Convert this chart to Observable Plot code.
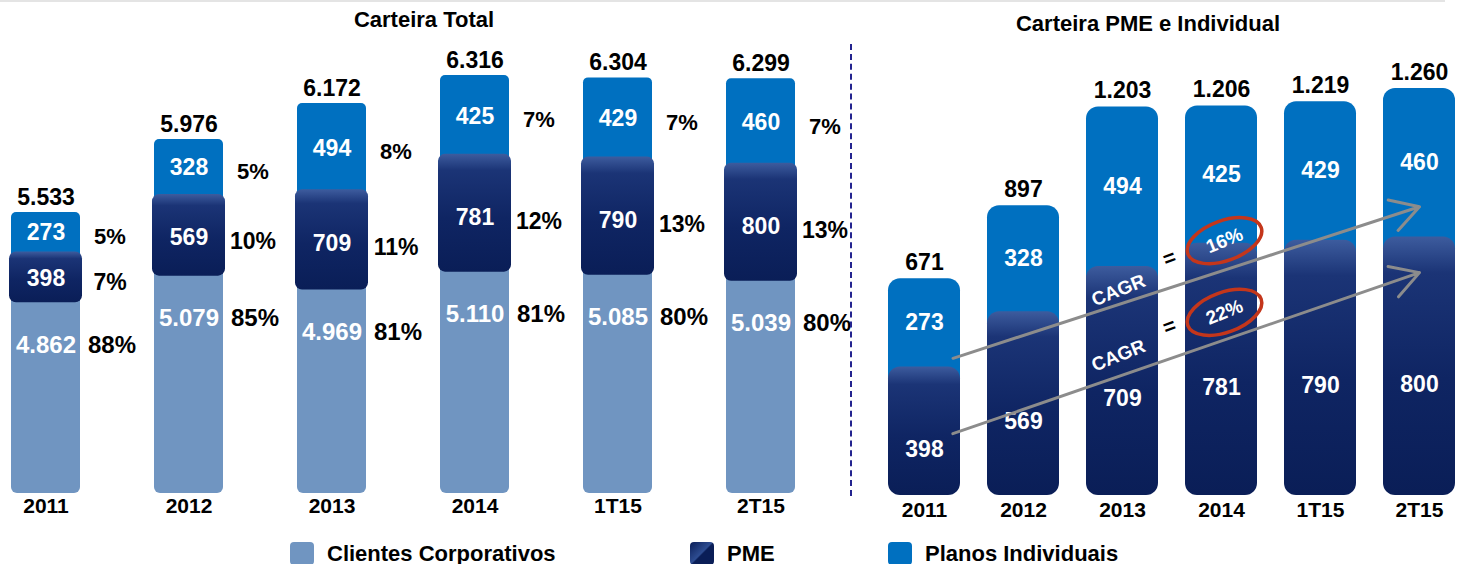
<!DOCTYPE html>
<html>
<head>
<meta charset="utf-8">
<script src="https://cdn.jsdelivr.net/npm/d3@7"></script>
<script src="https://cdn.jsdelivr.net/npm/@observablehq/plot@0.6"></script>
<style>
html,body{margin:0;padding:0;background:#fff;}
body{width:1464px;height:564px;position:relative;overflow:hidden;font-family:"Liberation Sans",Arial,Helvetica,sans-serif;}
.title{position:absolute;font-weight:bold;font-size:22px;color:#000;transform:translateX(-50%);white-space:nowrap;line-height:1;}
#left{position:absolute;left:0;top:0;}
#right{position:absolute;left:856px;top:0;}
.divider{position:absolute;left:850px;top:44px;height:452px;border-left:2px dashed #23238f;}
.topline{position:absolute;left:0;top:0;width:1445px;height:2px;background:#e4e4e4;}
.legend-item{position:absolute;top:542px;display:flex;align-items:center;font-weight:bold;font-size:22px;line-height:1;color:#000;white-space:nowrap;}
.legend-item .sw{width:24px;height:23px;border-radius:4px;margin-right:13px;}
svg [aria-label^="x-axis"] text{font-size:21px;font-weight:bold;fill:#000;}
</style>
</head>
<body>
<div class="topline"></div>
<div class="title" style="left:424px;top:9px;">Carteira Total</div>
<div class="title" style="left:1148px;top:13px;">Carteira PME e Individual</div>
<div id="left"></div>
<div class="divider"></div>
<div id="right"></div>
<div id="legend"></div>
<script>
// ---------- data ----------
const years = ["2011", "2012", "2013", "2014", "1T15", "2T15"];
const corporativos = [4862, 5079, 4969, 5110, 5085, 5039];
const pme = [398, 569, 709, 781, 790, 800];
const individuais = [273, 328, 494, 425, 429, 460];
const totalCarteira = [5533, 5976, 6172, 6316, 6304, 6299];
const pctCorporativos = [88, 85, 81, 81, 80, 80];
const pctPme = [7, 10, 11, 12, 13, 13];
const pctIndividuais = [5, 5, 8, 7, 7, 7];
const totalPmeIndividual = [671, 897, 1203, 1206, 1219, 1260];
const seriesNames = ["Clientes Corporativos", "PME", "Planos Individuais"];
const seriesColors = ["#7095C1", "#0E2563", "#0070C0"];
// CAGR annotations (values in units of the right chart)
const cagrLabels = ["16%", "22%"];
const cagrArrowFrom = [396, 161];
const cagrArrowTo = [894, 690];
const cagrTextLevel = [635, 433];
const cagrEqualLevel = [734, 523];
const cagrCircleLevel = [789, 567];

// ---------- helpers ----------
const FONT = "'Liberation Sans', Arial, Helvetica, sans-serif";
const fmt = d3.formatLocale({decimal: ",", thousands: ".", grouping: [3], currency: ["R$", ""]}).format(",d");
const gradient = (id) => () => {
  const defs = d3.create("svg:defs");
  const g = defs.append("linearGradient").attr("id", id).attr("x1", 0).attr("y1", 0).attr("x2", 0).attr("y2", 1);
  g.append("stop").attr("offset", "0%").attr("stop-color", "#3D5C9E");
  g.append("stop").attr("offset", "14%").attr("stop-color", "#1B3476");
  g.append("stop").attr("offset", "55%").attr("stop-color", "#0F2563");
  g.append("stop").attr("offset", "100%").attr("stop-color", "#0A1E57");
  return defs.node();
};

const left = years.map((year, i) => ({
  year, corp: corporativos[i], pme: pme[i], ind: individuais[i], total: totalCarteira[i],
  pc: pctCorporativos[i], pp: pctPme[i], pi: pctIndividuais[i]
}));
const right = years.map((year, i) => ({year, pme: pme[i], ind: individuais[i], total: totalPmeIndividual[i]}));
const cagr = cagrLabels.map((label, i) => ({
  label, from: cagrArrowFrom[i], to: cagrArrowTo[i], text: cagrTextLevel[i], eq: cagrEqualLevel[i], circ: cagrCircleLevel[i]
}));

// ---------- left chart: Carteira Total ----------
const leftPlot = Plot.plot({
  width: 855, height: 525,
  marginLeft: 8, marginRight: 58, marginTop: 75, marginBottom: 32,
  style: {fontFamily: FONT, fontSize: "21px", fontWeight: "bold", color: "#000", background: "transparent"},
  x: {domain: years, paddingInner: 0.52, paddingOuter: 0, align: 0.5, tickSize: 0, tickPadding: 5, label: null},
  y: {type: "pow", exponent: 3, domain: [0, 6316], axis: null},
  marks: [
    gradient("pmeGradL"),
    Plot.barY(left, {x: "year", y1: d => d.corp + d.pme / 2, y2: "total", fill: seriesColors[2], rx: 5}),
    Plot.barY(left, {x: "year", y1: 0, y2: d => d.corp + d.pme / 2, fill: seriesColors[0], rx: 6}),
    Plot.barY(left, {x: "year", y1: "corp", y2: d => d.corp + d.pme, fill: "url(#pmeGradL)", rx: 7, insetLeft: -2, insetRight: -2}),
    Plot.text(left, {x: "year", y: "total", text: d => fmt(d.total), dy: -15, fontSize: 23, fontWeight: "bold", fill: "#000"}),
    Plot.text(left, {x: "year", y: d => d.corp + d.pme + d.ind / 2, text: d => fmt(d.ind), fontSize: 23, fontWeight: "bold", fill: "#fff"}),
    Plot.text(left, {x: "year", y: d => d.corp + d.pme / 2, text: d => fmt(d.pme), fontSize: 23, fontWeight: "bold", fill: "#fff"}),
    Plot.text(left, {x: "year", y: "corp", text: d => fmt(d.corp), dy: 42, fontSize: 24, fontWeight: "bold", fill: "#fff"}),
    Plot.text(left, {x: "year", y: d => d.corp + d.pme + d.ind / 2, text: d => d.pi + "%", dx: 64, dy: 4, fontSize: 22, fontWeight: "bold", fill: "#000"}),
    Plot.text(left, {x: "year", y: d => d.corp + d.pme / 2, text: d => d.pp + "%", dx: 64, dy: 4, fontSize: 23, fontWeight: "bold", fill: "#000"}),
    Plot.text(left, {x: "year", y: "corp", text: d => d.pc + "%", dx: 66, dy: 42, fontSize: 24, fontWeight: "bold", fill: "#000"})
  ]
});
document.getElementById("left").appendChild(leftPlot);

// ---------- right chart: Carteira PME e Individual ----------
const rightPlot = Plot.plot({
  width: 608, height: 525,
  marginLeft: 30, marginRight: 8, marginTop: 88, marginBottom: 30,
  style: {fontFamily: FONT, fontSize: "21px", fontWeight: "bold", color: "#000", background: "transparent"},
  x: {domain: years, paddingInner: 0.277, paddingOuter: 0, align: 0.5, tickSize: 0, tickPadding: 7, label: null},
  y: {domain: [0, 1260], axis: null},
  marks: [
    gradient("pmeGradR"),
    Plot.barY(right, {x: "year", y1: d => d.pme / 2, y2: "total", fill: seriesColors[2], rx: 12}),
    Plot.barY(right, {x: "year", y1: 0, y2: "pme", fill: "url(#pmeGradR)", rx: 12}),
    Plot.text(right, {x: "year", y: "total", text: d => fmt(d.total), dy: -16, fontSize: 23, fontWeight: "bold", fill: "#000"}),
    Plot.text(right, {x: "year", y: d => d.pme + d.ind / 2, text: d => fmt(d.ind), fontSize: 23, fontWeight: "bold", fill: "#fff"}),
    Plot.text(right, {x: "year", y: d => d.pme / 2, text: d => fmt(d.pme), dy: 18, fontSize: 23, fontWeight: "bold", fill: "#fff"}),
    Plot.text(cagr, {x: () => "2013", y: "text", text: () => "CAGR", rotate: -22, fontSize: 19, fontWeight: "bold", fill: "#fff", dx: -4}),
    Plot.text(cagr, {x: () => "2013", y: "eq", text: () => "=", rotate: -20, fontSize: 21, fontWeight: "bold", fill: "#000", dx: 47}),
    Plot.dot(cagr, {x: () => "2014", y: "circ", r: 20, stroke: "#C4361B", strokeWidth: 3.5, fill: "none", dx: 3}),
    Plot.text(cagr, {x: () => "2014", y: "circ", text: "label", rotate: -22, fontSize: 19, fontWeight: "bold", fill: "#fff", dx: 3}),
    Plot.arrow(cagr, {x1: () => "2011", y1: "from", x2: () => "2T15", y2: "to", stroke: "#8C8C8C", strokeWidth: 3, headLength: 16, insetStart: 30})
  ]
});
document.getElementById("right").appendChild(rightPlot);

// turn the CAGR circles into tilted ellipses
d3.select(rightPlot).selectAll('g[aria-label="dot"] circle').each(function () {
  const c = d3.select(this);
  const cx = +c.attr("cx") || 0, cy = +c.attr("cy") || 0;
  d3.select(this.parentNode).append("ellipse")
    .attr("cx", cx).attr("cy", cy).attr("rx", 39).attr("ry", 20)
    .attr("transform", `rotate(-20 ${cx} ${cy})`)
    .attr("fill", "none").attr("stroke", "#C4361B").attr("stroke-width", 3.5);
  c.remove();
});

// ---------- legend ----------
const legendX = [290, 690, 888];
const legend = d3.select("#legend");
seriesNames.forEach((name, i) => {
  const item = legend.append("div").attr("class", "legend-item").style("left", legendX[i] + "px");
  item.append("div").attr("class", "sw").style("background", i === 1
    ? "linear-gradient(135deg,#0A1E57 0%,#2E4D92 48%,#0A1E57 52%,#0A1E57 100%)"
    : seriesColors[i]);
  item.append("span").text(name);
});
</script>
</body>
</html>
